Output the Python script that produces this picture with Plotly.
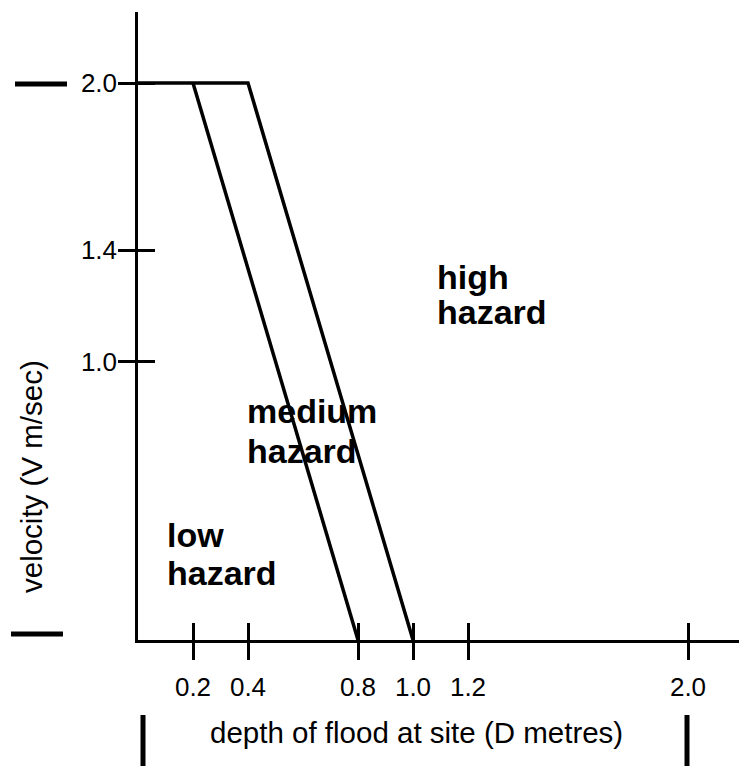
import plotly.graph_objects as go

# hazard boundaries (depth D in metres, velocity V in m/sec)
low_med_depth = [0.2, 0.8]
low_med_vel = [2.0, 0.0]
med_high_depth = [0.0, 0.4, 1.0]
med_high_vel = [2.0, 2.0, 0.0]

x_ticks = [0.2, 0.4, 0.8, 1.0, 1.2, 2.0]
x_tick_text = ["0.2", "0.4", "0.8", "1.0", "1.2", "2.0"]
y_ticks = [1.0, 1.4, 2.0]
y_tick_text = ["1.0", "1.4", "2.0"]

FONT = "Liberation Sans, Arial, Helvetica, sans-serif"

# plot area geometry in screen pixels (page body adds an 8px offset)
OFF = 8
L, T, W, H = 138, 12, 609, 628
X_MAX = W / 275.0
Y_MAX = H / 278.5


def px_x(p):
    return (p - L) / W


def px_y(p):
    return (T + H - p) / H


fig = go.Figure()
for xs, ys in [(low_med_depth, low_med_vel), (med_high_depth, med_high_vel)]:
    fig.add_trace(go.Scatter(x=xs, y=ys, mode="lines",
                             line=dict(color="black", width=3.5),
                             hoverinfo="skip", showlegend=False))
# empty trace so the overlay axes (inner half of the ticks) get drawn
fig.add_trace(go.Scatter(x=[], y=[], xaxis="x2", yaxis="y2", showlegend=False))

axis_common = dict(showgrid=False, zeroline=False, tickcolor="black",
                   tickwidth=3, ticklen=17)
fig.update_layout(
    width=747, height=766, autosize=False,
    margin=dict(l=L - OFF, r=747 - (L + W - OFF), t=T - OFF,
                b=766 - (T + H - OFF)),
    paper_bgcolor="white", plot_bgcolor="white",
    font=dict(family=FONT, color="black"),
    xaxis=dict(range=[0, X_MAX], showline=True, linewidth=2.5, linecolor="black",
               ticks="outside", tickvals=x_ticks, ticktext=x_tick_text,
               tickfont=dict(size=26), ticklabelstandoff=5, **axis_common),
    yaxis=dict(range=[0, Y_MAX], showline=True, linewidth=2.5, linecolor="black",
               ticks="outside", tickvals=y_ticks, ticktext=y_tick_text,
               tickfont=dict(size=26), ticklabelstandoff=-4, **axis_common),
    xaxis2=dict(range=[0, X_MAX], overlaying="x", anchor="y2", side="bottom",
                ticks="inside", tickvals=x_ticks, showticklabels=False,
                showline=False, **axis_common),
    yaxis2=dict(range=[0, Y_MAX], overlaying="y", anchor="x2", side="left",
                ticks="inside", tickvals=y_ticks, showticklabels=False,
                showline=False, **axis_common),
)

# axis titles
fig.add_annotation(text="depth of flood at site (D metres)", xref="paper", yref="paper",
                   x=px_x(416), y=px_y(732), showarrow=False,
                   font=dict(size=29.5), xanchor="center", yanchor="middle")
fig.add_annotation(text="velocity (V m/sec)", xref="paper", yref="paper",
                   x=px_x(31), y=px_y(477), showarrow=False, textangle=-90,
                   font=dict(size=29.5), xanchor="center", yanchor="middle")

# zone labels (left edge, baseline in px)
zone_labels = [("high", 435, 287), ("hazard", 435, 322),
               ("medium", 245, 421), ("hazard", 245, 461),
               ("low", 165, 545), ("hazard", 165, 583)]
for txt, lx, base in zone_labels:
    fig.add_annotation(text=f"<b>{txt}</b>", xref="paper", yref="paper",
                       x=px_x(lx), y=px_y(base - 10), showarrow=False,
                       font=dict(size=34), xanchor="left", yanchor="middle")

# registration marks around the figure
marks = [(15, 67, 84, 84), (11, 63, 634, 634), (143, 143, 715, 770), (687, 687, 715, 770)]
for x0, x1, y0, y1 in marks:
    fig.add_shape(type="line", xref="paper", yref="paper",
                  x0=px_x(x0), x1=px_x(x1), y0=px_y(y0), y1=px_y(y1),
                  line=dict(color="black", width=5))

fig.write_html("out.html")
